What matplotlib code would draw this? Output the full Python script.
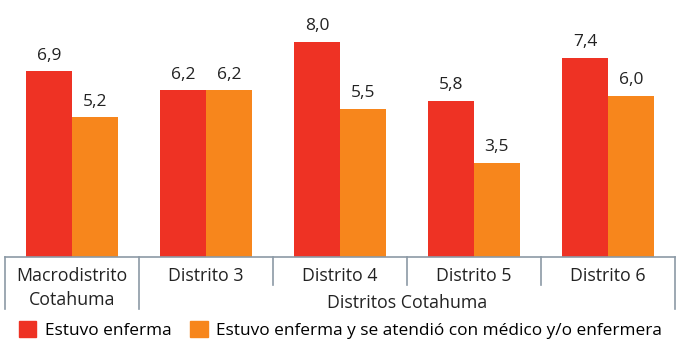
import matplotlib.pyplot as plt
import matplotlib.transforms as mtransforms
from matplotlib.patches import Patch
import numpy as np

plt.rcParams['font.family'] = ['Open Sans', 'DejaVu Sans']

categorias = ['Macrodistrito\nCotahuma', 'Distrito 3', 'Distrito 4', 'Distrito 5', 'Distrito 6']
enferma = [6.9, 6.2, 8.0, 5.8, 7.4]
atendida = [5.2, 6.2, 5.5, 3.5, 6.0]
series = ['Estuvo enferma', 'Estuvo enferma y se atendió con médico y/o enfermera']
grupo = 'Distritos Cotahuma'

rojo = '#EE3224'
naranja = '#F7861C'
gris = '#8C9AA6'

W, H = 679, 353
fig = plt.figure(figsize=(W / 100, H / 100), dpi=100)
ax_bottom = 257
ax_top = 15
ax = fig.add_axes([5 / W, (H - ax_bottom) / H, 670 / W, (ax_bottom - ax_top) / H])

x = np.arange(len(categorias))
w = 0.34
ax.bar(x - w / 2, enferma, w, color=rojo)
ax.bar(x + w / 2, atendida, w, color=naranja)
for xi, a, b in zip(x, enferma, atendida):
    ax.annotate(f'{a:.1f}'.replace('.', ','), (xi - w / 2, a), xytext=(0, 5.5),
                textcoords='offset points', ha='center', va='bottom', fontsize=12.5, color='#222222')
    ax.annotate(f'{b:.1f}'.replace('.', ','), (xi + w / 2, b), xytext=(0, 5.5),
                textcoords='offset points', ha='center', va='bottom', fontsize=12.5, color='#222222')

ax.set_xlim(-0.5, len(categorias) - 0.5)
ax.set_ylim(0, 9.0)
for s in ['top', 'right', 'left']:
    ax.spines[s].set_visible(False)
ax.spines['bottom'].set_color(gris)
ax.spines['bottom'].set_linewidth(1.2)
ax.set_xticks([])
ax.set_yticks([])

# pixel offsets below axis, data x
px = ax.get_window_extent().height
def yax(p):
    return -p / px

trans = mtransforms.blended_transform_factory(ax.transData, ax.transAxes)
bordes = np.arange(len(categorias) + 1) - 0.5
for i, b in enumerate(bordes):
    largo = 52 if i in (0, 1, len(bordes) - 1) else 28
    ax.plot([b, b], [0, yax(largo)], transform=trans, color=gris, lw=1.2, clip_on=False)

for xi, c in zip(x, categorias):
    ax.text(xi, yax(10), c, transform=trans, ha='center', va='top', fontsize=12.8,
            color='#222222', linespacing=1.45)
ax.text((1 + len(categorias) - 1) / 2, yax(37), grupo, transform=trans, ha='center',
        va='top', fontsize=12.8, color='#222222')

handles = [Patch(color=rojo), Patch(color=naranja)]
fig.legend(handles, series, loc='center left', bbox_to_anchor=(19 / W, 1 - 330 / H),
           ncol=2, frameon=False, fontsize=12.4, handlelength=1.0, handleheight=1.1,
           handletextpad=0.5, columnspacing=1.1, borderaxespad=0, borderpad=0)

plt.savefig('out.png', dpi=100)
